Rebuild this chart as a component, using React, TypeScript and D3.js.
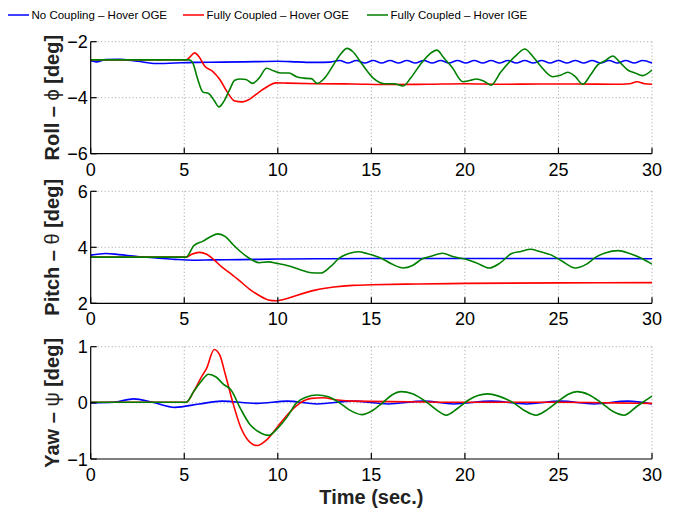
import React from 'react';
import * as d3 from 'd3';

type Pt = [number, number];

// Roll - phi [deg]
const rollNoCoupling: Pt[] = [
  [0, -2.68], [0.3, -2.72], [0.8, -2.64], [1.5, -2.63], [2.5, -2.7], [3.5, -2.78], [4.5, -2.76],
  [5.5, -2.74], [7, -2.73], [9, -2.71], [10, -2.7], [11, -2.72], [12, -2.74], [12.8, -2.73],
  [13.3, -2.67], [13.75, -2.76], [14.2, -2.67], [14.65, -2.76], [15.1, -2.67], [15.55, -2.76],
  [16.0, -2.67], [16.45, -2.76], [16.9, -2.67], [17.35, -2.76], [17.8, -2.67], [18.25, -2.76],
  [18.7, -2.67], [19.15, -2.76], [19.6, -2.67], [20.05, -2.76], [20.5, -2.67], [20.95, -2.76],
  [21.4, -2.67], [21.85, -2.76], [22.3, -2.67], [22.75, -2.76], [23.2, -2.67], [23.65, -2.76],
  [24.1, -2.67], [24.55, -2.76], [25.0, -2.67], [25.45, -2.76], [25.9, -2.67], [26.35, -2.76],
  [26.8, -2.67], [27.25, -2.76], [27.7, -2.67], [28.15, -2.76], [28.6, -2.67], [29.05, -2.76],
  [29.5, -2.67], [30, -2.76],
];
const rollCoupledOGE: Pt[] = [
  [0, -2.65], [5.1, -2.65], [5.3, -2.55], [5.55, -2.4], [5.8, -2.55], [6.1, -2.88], [6.5, -3.05],
  [6.9, -3.35], [7.3, -3.8], [7.7, -4.12], [8.1, -4.15], [8.5, -4.05], [9.0, -3.8], [9.5, -3.58],
  [9.9, -3.47], [10.5, -3.48], [12, -3.5], [14, -3.51], [16, -3.53], [18, -3.52], [20, -3.5],
  [22, -3.52], [24, -3.51], [26, -3.51], [28, -3.52], [28.8, -3.5], [29.2, -3.43], [29.6, -3.5],
  [30, -3.52],
];
const rollCoupledIGE: Pt[] = [
  [0, -2.65], [5.25, -2.65], [5.45, -2.75], [5.7, -3.3], [6.0, -3.8], [6.3, -3.85], [6.6, -4.1],
  [6.85, -4.33], [7.1, -4.15], [7.4, -3.75], [7.7, -3.38], [8.0, -3.33], [8.3, -3.35], [8.65, -3.49],
  [9.0, -3.3], [9.4, -2.95], [9.8, -3.05], [10.2, -3.12], [10.6, -3.12], [11.0, -3.25], [11.4, -3.3],
  [11.8, -3.32], [12.1, -3.49], [12.5, -3.3], [13.0, -2.8], [13.35, -2.45], [13.7, -2.24],
  [14.0, -2.35], [14.5, -2.8], [15.1, -3.3], [15.7, -3.5], [16.2, -3.5], [16.7, -3.58], [17.1, -3.3],
  [17.6, -2.83], [18.1, -2.45], [18.5, -2.3], [18.9, -2.6], [19.3, -2.9], [19.9, -3.43], [20.3, -3.38],
  [20.6, -3.33], [21.0, -3.4], [21.4, -3.55], [21.9, -3.1], [22.4, -2.71], [22.8, -2.45], [23.2, -2.26],
  [23.6, -2.5], [24.0, -2.83], [24.7, -3.25], [25.1, -3.2], [25.5, -3.09], [25.9, -3.25], [26.3, -3.52],
  [26.7, -3.2], [27.1, -2.83], [27.5, -2.68], [27.9, -2.51], [28.3, -2.75], [28.7, -3.01], [29.1, -3.12],
  [29.5, -3.21], [30, -3.01],
];

// Pitch - theta [deg]
const pitchNoCoupling: Pt[] = [
  [0, 3.72], [0.8, 3.78], [1.5, 3.74], [2.5, 3.67], [3.5, 3.62], [4.5, 3.57], [5.5, 3.54], [6.5, 3.55],
  [8, 3.56], [10, 3.58], [12, 3.59], [15, 3.6], [20, 3.6], [25, 3.6], [30, 3.59],
];
const pitchCoupledOGE: Pt[] = [
  [0, 3.65], [5.1, 3.65], [5.4, 3.75], [5.8, 3.82], [6.2, 3.75], [6.6, 3.55], [7.0, 3.3], [7.5, 3.05],
  [8.0, 2.78], [8.5, 2.5], [9.0, 2.28], [9.5, 2.12], [9.9, 2.09], [10.5, 2.17], [11.0, 2.28], [12, 2.47],
  [13, 2.58], [14, 2.64], [15, 2.66], [17.5, 2.69], [20, 2.71], [25, 2.73], [30, 2.74],
];
const pitchCoupledIGE: Pt[] = [
  [0, 3.65], [5.1, 3.65], [5.5, 4.05], [6.0, 4.22], [6.4, 4.38], [6.8, 4.48], [7.2, 4.38], [7.6, 4.1],
  [8.0, 3.85], [8.5, 3.6], [9.0, 3.45], [9.5, 3.48], [10.0, 3.42], [10.6, 3.33], [11.2, 3.2], [11.8, 3.09],
  [12.3, 3.08], [12.8, 3.3], [13.3, 3.62], [13.8, 3.78], [14.3, 3.84], [14.8, 3.77], [15.5, 3.62],
  [16.1, 3.4], [16.7, 3.26], [17.2, 3.35], [17.7, 3.58], [18.2, 3.68], [18.8, 3.79], [19.4, 3.66],
  [20.0, 3.58], [20.6, 3.45], [21.3, 3.26], [21.9, 3.45], [22.5, 3.78], [23.0, 3.85], [23.5, 3.93],
  [24.0, 3.85], [24.6, 3.73], [25.2, 3.5], [25.9, 3.26], [26.5, 3.4], [27.0, 3.65], [27.5, 3.8],
  [28.2, 3.88], [28.8, 3.78], [29.4, 3.62], [30, 3.4],
];

// Yaw - psi [deg]
const yawNoCoupling: Pt[] = [
  [0, 0], [1.2, 0.01], [2.3, 0.07], [3.3, 0.01], [4.5, -0.08], [5.8, -0.02], [7.0, 0.03], [8.9, -0.01],
  [10.5, 0.03], [12.1, -0.02], [14.0, 0.03], [15.9, -0.02], [17.8, 0.03], [19.4, -0.02], [21.4, 0.03],
  [23.3, -0.02], [25.1, 0.03], [26.9, -0.02], [28.7, 0.03], [30, -0.02],
];
const yawCoupledOGE: Pt[] = [
  [0, 0.01], [5.1, 0.01], [5.5, 0.2], [5.9, 0.45], [6.2, 0.62], [6.6, 0.95], [6.9, 0.85], [7.2, 0.5],
  [7.6, 0.0], [8.0, -0.42], [8.4, -0.66], [8.9, -0.76], [9.4, -0.66], [10.0, -0.42], [10.6, -0.18],
  [11.2, 0.0], [11.8, 0.08], [12.4, 0.09], [13.2, 0.05], [14.0, 0.03], [17, 0.02], [20, 0.01],
  [25, 0.01], [28, 0.0], [30, -0.01],
];
const yawCoupledIGE: Pt[] = [
  [0, 0.01], [5.1, 0.01], [5.5, 0.2], [5.9, 0.38], [6.3, 0.51], [6.7, 0.46], [7.1, 0.33], [7.5, 0.23],
  [8.0, -0.1], [8.5, -0.38], [9.0, -0.52], [9.5, -0.58], [10.0, -0.45], [10.5, -0.25], [11.0, 0.0],
  [11.5, 0.1], [12.1, 0.14], [12.7, 0.11], [13.3, 0.0], [13.8, -0.12], [14.5, -0.21], [15.0, -0.15],
  [15.6, 0.0], [16.1, 0.14], [16.6, 0.2], [17.2, 0.16], [18.0, 0.0], [18.5, -0.13], [19.0, -0.22],
  [19.6, -0.1], [20.2, 0.05], [20.7, 0.13], [21.2, 0.16], [21.8, 0.12], [22.6, 0.0], [23.2, -0.14],
  [23.8, -0.22], [24.4, -0.12], [25.0, 0.03], [25.5, 0.15], [26.0, 0.2], [26.6, 0.15], [27.3, 0.0],
  [27.9, -0.15], [28.5, -0.22], [29.2, -0.06], [30, 0.12],
];

const seriesNames = ['No Coupling \u2013 Hover OGE', 'Fully Coupled \u2013 Hover OGE', 'Fully Coupled \u2013 Hover IGE'];
const seriesColors = ['#0000ff', '#ff0000', '#008000'];
const xTicks = [0, 5, 10, 15, 20, 25, 30];

const panels = [
  { label: 'Roll \u2013 ', sym: '\u03d5', domain: [-6, -2], ticks: [-6, -4, -2], top: 41.7, bottom: 153.7,
    series: [rollNoCoupling, rollCoupledOGE, rollCoupledIGE] },
  { label: 'Pitch \u2013 ', sym: '\u03b8', domain: [2, 6], ticks: [2, 4, 6], top: 191.3, bottom: 303.3,
    series: [pitchNoCoupling, pitchCoupledOGE, pitchCoupledIGE] },
  { label: 'Yaw \u2013 ', sym: '\u03c8', domain: [-1, 1], ticks: [-1, 0, 1], top: 346.7, bottom: 459,
    series: [yawNoCoupling, yawCoupledOGE, yawCoupledIGE] },
];

const font = 'Liberation Sans, Arial, Helvetica, sans-serif';
const fmt = (v: number) => (v < 0 ? '\u2212' + Math.abs(v) : String(v));

export default function App() {
  const x = d3.scaleLinear().domain([0, 30]).range([90.7, 652]);
  const legendX = [8, 183, 367];

  return (
    <svg width={689} height={512} style={{ position: 'absolute', left: 0, top: 0, background: '#fff' }}
      fontFamily={font}>
      {/* legend */}
      {seriesNames.map((name, i) => (
        <g key={name} transform={`translate(${legendX[i]},15)`}>
          <line x1={0} x2={21} y1={0} y2={0} stroke={seriesColors[i]} strokeWidth={1.5} />
          <text x={23.5} y={4.3} fontSize={11.5} fill="#000">{name}</text>
        </g>
      ))}

      {panels.map((p, pi) => {
        const y = d3.scaleLinear().domain(p.domain).range([p.bottom, p.top]);
        const line = d3.line<Pt>().x(d => x(d[0])).y(d => y(d[1])).curve(d3.curveMonotoneX);
        const midY = (p.top + p.bottom) / 2;
        return (
          <g key={pi}>
            {/* grid */}
            {xTicks.filter(t => t > 0).map(t => (
              <line key={'gx' + t} x1={x(t)} x2={x(t)} y1={p.top} y2={p.bottom}
                stroke="#888" strokeWidth={0.8} strokeDasharray="1,2.5" />
            ))}
            {p.ticks.filter(t => t !== p.domain[0]).map(t => (
              <line key={'gy' + t} x1={x(0)} x2={x(30)} y1={y(t)} y2={y(t)}
                stroke="#888" strokeWidth={0.8} strokeDasharray="1,2.5" />
            ))}
            {/* curves */}
            <g clipPath={`url(#clip${pi})`}>
              {p.series.map((s, si) => (
                <path key={si} d={line(s) || ''} fill="none" stroke={seriesColors[si]} strokeWidth={1.6} />
              ))}
            </g>
            <clipPath id={`clip${pi}`}>
              <rect x={x(0)} y={p.top - 2} width={x(30) - x(0)} height={p.bottom - p.top + 2} />
            </clipPath>
            {/* axes */}
            <line x1={x(0)} x2={x(0)} y1={p.top} y2={p.bottom} stroke="#000" strokeWidth={1.2} />
            <line x1={x(0)} x2={x(30)} y1={p.bottom} y2={p.bottom} stroke="#000" strokeWidth={1.2} />
            {xTicks.map(t => (
              <g key={'xt' + t}>
                <line x1={x(t)} x2={x(t)} y1={p.bottom} y2={p.bottom - 6} stroke="#000" strokeWidth={1.2} />
                <text x={x(t)} y={p.bottom + 22} fontSize={18} textAnchor="middle" fill="#000">{t}</text>
              </g>
            ))}
            {p.ticks.map(t => (
              <g key={'yt' + t}>
                <line x1={x(0)} x2={x(0) + 6} y1={y(t)} y2={y(t)} stroke="#000" strokeWidth={1.2} />
                <text x={x(0) - 3} y={y(t) + 6.5} fontSize={18} textAnchor="end" fill="#000">{fmt(t)}</text>
              </g>
            ))}
            {/* y label */}
            <text transform={`translate(59,${midY}) rotate(-90)`} textAnchor="middle" fontSize={20}
              fontWeight="bold" fill="#222">
              {p.label}<tspan fontWeight="normal">{p.sym}</tspan> [deg]
            </text>
          </g>
        );
      })}

      <text x={(x(0) + x(30)) / 2} y={504} textAnchor="middle" fontSize={20} fontWeight="bold" fill="#222">
        Time (sec.)
      </text>
    </svg>
  );
}
